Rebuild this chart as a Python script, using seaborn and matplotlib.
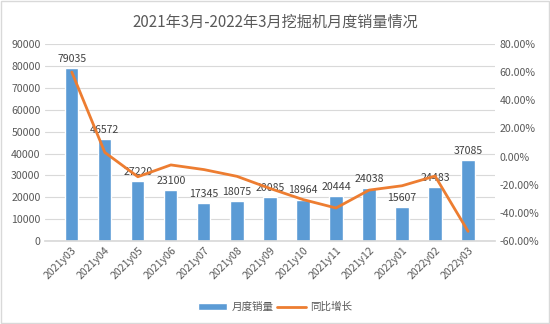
import matplotlib
matplotlib.use("Agg")
import matplotlib.pyplot as plt
import seaborn as sns
import pandas as pd
from matplotlib.ticker import FuncFormatter, MultipleLocator
from matplotlib.patches import Rectangle

months = ["2021y03", "2021y04", "2021y05", "2021y06", "2021y07", "2021y08", "2021y09",
          "2021y10", "2021y11", "2021y12", "2022y01", "2022y02", "2022y03"]
sales = [79035, 46572, 27220, 23100, 17345, 18075, 20085, 18964, 20444, 24038, 15607, 24483, 37085]
yoy = [60.1, 3.0, -14.3, -5.9, -9.2, -14.0, -22.6, -30.5, -36.5, -23.8, -20.7, -13.8, -53.1]

df = pd.DataFrame({"month": months, "sales": sales, "yoy": yoy})

sns.set_theme(style="white")
plt.rcParams["font.family"] = ["Noto Sans CJK SC", "DejaVu Sans"]

bar_color = "#5B9BD5"
line_color = "#ED7D31"
text_color = "#595959"

fig = plt.figure(figsize=(5.5, 3.24), dpi=100)
fig.patches.append(Rectangle((0.002, 0.003), 0.996, 0.994, transform=fig.transFigure,
                             fill=False, edgecolor="#D9D9D9", linewidth=1))
ax = fig.add_axes([0.0813, 0.256, 0.819, 0.608])

sns.barplot(data=df, x="month", y="sales", color=bar_color, width=0.4,
            saturation=1, ax=ax, label="月度销量")
ax.set_ylim(0, 90000)
ax.yaxis.set_major_locator(MultipleLocator(10000))
ax.grid(axis="y", color="#D9D9D9", linewidth=0.8)
ax.set_axisbelow(True)
for s in ["top", "right", "left"]:
    ax.spines[s].set_visible(False)
ax.spines["bottom"].set_color("#D9D9D9")
ax.set_xlabel("")
ax.set_ylabel("")
ax.tick_params(axis="both", labelsize=7.6, colors=text_color, length=0, pad=3)
for lab in ax.get_xticklabels():
    lab.set_rotation(45)
    lab.set_ha("right")
    lab.set_rotation_mode("anchor")
ax.bar_label(ax.containers[0], labels=[str(v) for v in sales], padding=3,
             fontsize=7.6, color="#404040")

ax2 = ax.twinx()
sns.lineplot(data=df, x="month", y="yoy", color=line_color, linewidth=2, sort=False,
             ax=ax2, label="同比增长")
ax2.set_ylim(-60, 80)
ax2.yaxis.set_major_locator(MultipleLocator(20))
ax2.yaxis.set_major_formatter(FuncFormatter(lambda v, p: f"{v:.2f}%"))
for s in ["top", "right", "left", "bottom"]:
    ax2.spines[s].set_visible(False)
ax2.set_ylabel("")
ax2.tick_params(axis="y", labelsize=7.6, colors=text_color, length=0, pad=3)
ax2.grid(False)

h1, l1 = ax.get_legend_handles_labels()
h2, l2 = ax2.get_legend_handles_labels()
if ax.get_legend():
    ax.get_legend().remove()
if ax2.get_legend():
    ax2.get_legend().remove()
fig.legend(h1 + h2, l1 + l2, loc="center", bbox_to_anchor=(0.5, 0.052), ncol=2,
           frameon=False, fontsize=7.6, labelcolor=text_color, handlelength=2.8,
           columnspacing=0.3, handletextpad=0.4)

fig.text(0.5, 0.932, "2021年3月-2022年3月挖掘机月度销量情况", ha="center", va="center",
         fontsize=10.9, color=text_color)

fig.savefig("out.png", dpi=100)
